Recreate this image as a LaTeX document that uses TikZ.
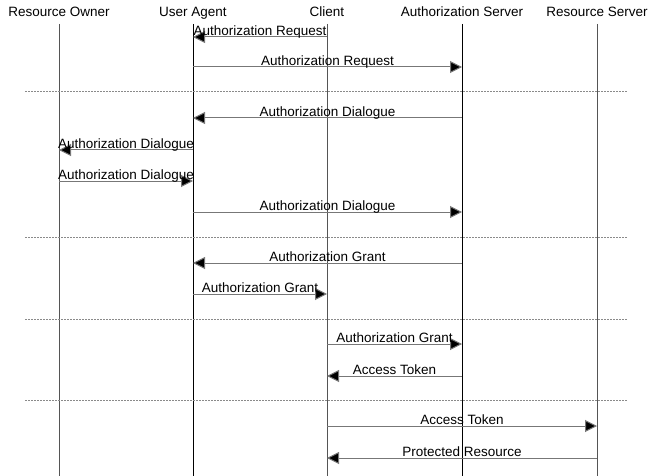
\documentclass[tikz,border=0pt]{standalone}
\usepackage{fontspec}
\setmainfont{Liberation Sans}
\usetikzlibrary{arrows.meta,calc}
\definecolor{lifegray}{HTML}{555555}
\definecolor{msggray}{HTML}{777777}
\definecolor{dotgray}{HTML}{8A8A8A}
\tikzset{
  actor/.style={font=\fontsize{13.5}{15}\selectfont, inner sep=0pt, anchor=base},
  life/.style={draw=lifegray, line width=1pt},
  msg/.style={draw=msggray, line width=1pt, -{Triangle[length=12pt,width=12pt,fill=black]}},
  lbl/.style={font=\fontsize{13.5}{15}\selectfont, inner sep=0pt, anchor=base},
  sep/.style={draw=dotgray, line width=0.9pt, dash pattern=on 1.5pt off 1.5pt}
}
\begin{document}
\begin{tikzpicture}[x=1pt,y=-1pt]
\useasboundingbox (0,0) rectangle (648,476);
% actors
\node[actor] (ro) at (59,17) {Resource Owner};
\node[actor] (ua) at (193,17) {User Agent};
\node[actor] (cl) at (327,17) {Client};
\node[actor] (as) at (462,17) {Authorization Server};
\node[actor] (rs) at (597,17) {Resource Server};
% lifeline ends
\foreach \n/\x in {ro/59,ua/193,cl/327,as/462,rs/597}{
  \coordinate (\n top) at (\x,24);
  \coordinate (\n bot) at (\x,476);
}
\draw[life] (rotop) -- (robot);
\draw[life, draw=black] (uatop) -- (uabot);
\draw[life] (cltop) -- (clbot);
\draw[life, draw=black] (astop) -- (asbot);
\draw[life] (rstop) -- (rsbot);
% separators
\foreach \y [count=\i] in {91,237,319,400}{
  \coordinate (sl\i) at (25,\y);
  \coordinate (sr\i) at (628,\y);
  \draw[sep] (sl\i) -- (sr\i);
}
% messages: from/to/y/label
\foreach \f/\t/\y/\l [count=\i] in {
  cl/ua/37/Authorization Request,
  ua/as/67/Authorization Request,
  as/ua/118/Authorization Dialogue,
  ua/ro/150/Authorization Dialogue,
  ro/ua/181/Authorization Dialogue,
  ua/as/212/Authorization Dialogue,
  as/ua/263/Authorization Grant,
  ua/cl/294/Authorization Grant,
  cl/as/344/Authorization Grant,
  as/cl/376/Access Token,
  cl/rs/426/Access Token,
  rs/cl/458/Protected Resource}{
  \coordinate (m\i a) at (\f top |- 0,\y);
  \coordinate (m\i b) at (\t top |- 0,\y);
  \draw[msg] (m\i a) -- (m\i b);
  \node[lbl] (l\i) at ($(m\i a)!0.5!(m\i b) + (0,-1.5)$) {\l};
}
\end{tikzpicture}
\end{document}
